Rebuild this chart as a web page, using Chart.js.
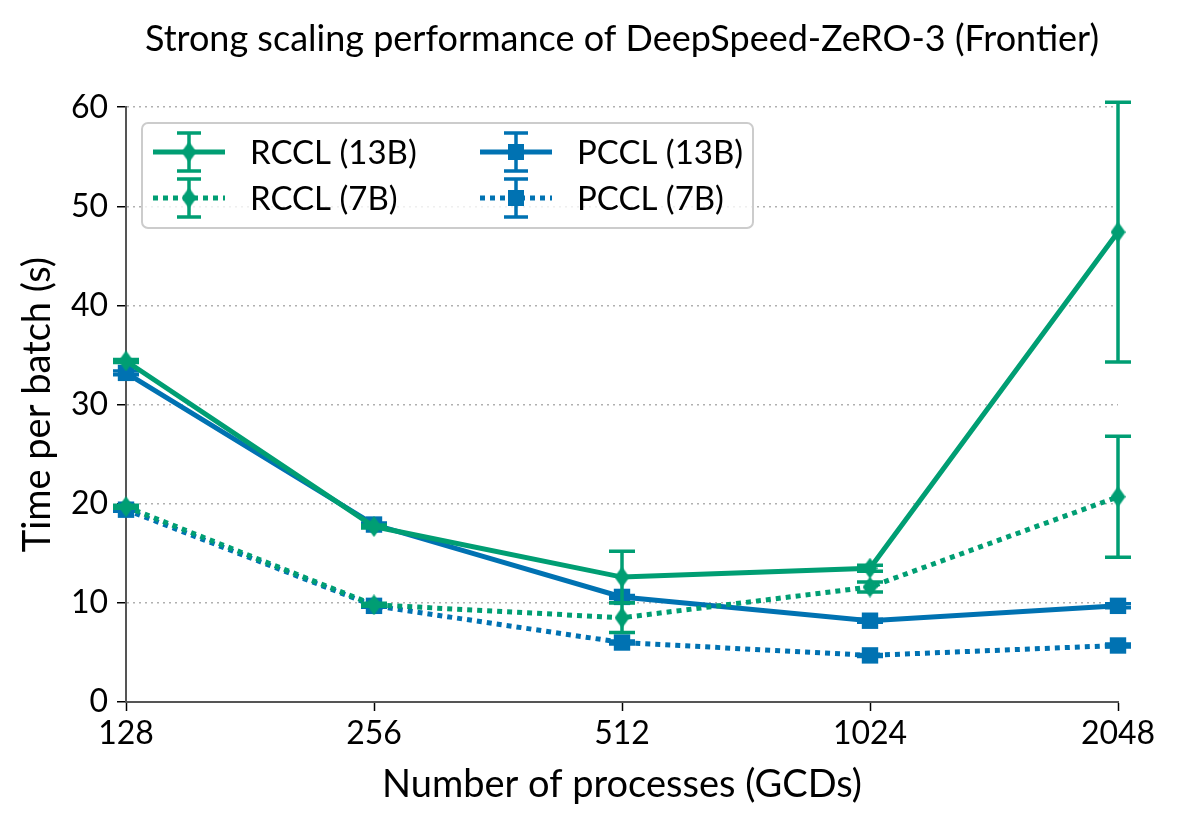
<!DOCTYPE html>
<html>
<head>
<meta charset="utf-8">
<script src="https://cdn.jsdelivr.net/npm/chart.js@4/dist/chart.umd.min.js"></script>
<style>
  body { margin: 0; background: #fff; }
  #wrap { width: 1178px; height: 826px; }
</style>
</head>
<body>
<div id="wrap"><canvas id="scaling"></canvas></div>
<script>
// data
const gcds = ['128', '256', '512', '1024', '2048']
const rccl13 = [34.4, 17.7, 12.6, 13.5, 47.4]
const rccl13Err = [0.15, 0.15, 2.6, 0.3, 13.1]
const rccl7 = [19.7, 9.8, 8.5, 11.6, 20.7]
const rccl7Err = [0.15, 0.15, 1.5, 0.5, 6.1]
const pccl13 = [33.2, 17.9, 10.6, 8.2, 9.7]
const pccl13Err = [0.2, 0.15, 0.15, 0.15, 0.2]
const pccl7 = [19.4, 9.7, 6.0, 4.7, 5.7]
const pccl7Err = [0.15, 0.15, 0.15, 0.1, 0.15]
const yTicks = [0, 10, 20, 30, 40, 50, 60]

const green = '#009E73'
const blue = '#0072B2'
const FONT = 'Lato'

// thin diamond marker like matplotlib 'd'
const makeDiamond = (color, w, h) => {
    const c = document.createElement('canvas')
    c.width = w
    c.height = h
    const g = c.getContext('2d')
    g.fillStyle = color
    g.beginPath()
    g.moveTo(w / 2, 0)
    g.lineTo(w, h / 2)
    g.lineTo(w / 2, h)
    g.lineTo(0, h / 2)
    g.closePath()
    g.fill()
    return c
}
const diamondG = makeDiamond(green, 15, 21)

const series = (label, data, errors, color, dotted, marker) => ({
    label: label,
    data: data,
    errors: errors,
    borderColor: color,
    backgroundColor: color,
    borderWidth: 5,
    borderDash: dotted ? [5, 5] : [],
    pointStyle: marker === 'd' ? diamondG : 'rect',
    pointRadius: marker === 'd' ? 10 : 11.6,
    pointBorderWidth: 0,
    pointHoverRadius: 11.6,
    tension: 0,
    fill: false,
    clip: false,
    marker: marker,
    dotted: dotted
})

// error bars, drawn with the y scale
const errorBars = {
    id: 'errorBars',
    beforeDatasetDraw(chart, args) {
        const ds = chart.data.datasets[args.index]
        const y = chart.scales.y
        const ctx = chart.ctx
        ctx.save()
        ctx.strokeStyle = ds.borderColor
        ctx.lineWidth = 3.5
        ctx.setLineDash([])
        args.meta.data.forEach((pt, i) => {
            const v = ds.data[i], e = ds.errors[i]
            const top = y.getPixelForValue(v + e)
            const bot = y.getPixelForValue(v - e)
            ctx.beginPath()
            ctx.moveTo(pt.x, top); ctx.lineTo(pt.x, bot)
            ctx.moveTo(pt.x - 13, top); ctx.lineTo(pt.x + 13, top)
            ctx.moveTo(pt.x - 13, bot); ctx.lineTo(pt.x + 13, bot)
            ctx.stroke()
        })
        ctx.restore()
    }
}

// legend box inside the axes, two columns
const boxLegend = {
    id: 'boxLegend',
    afterDraw(chart) {
        const ctx = chart.ctx
        const x0 = 142, y0 = 123, w = 611, h = 105
        ctx.save()
        ctx.fillStyle = 'rgba(255,255,255,0.8)'
        ctx.strokeStyle = '#cccccc'
        ctx.lineWidth = 2
        ctx.beginPath()
        ctx.roundRect(x0, y0, w, h, 6)
        ctx.fill()
        ctx.stroke()

        const cols = [153, 480]
        const rows = [152, 198]
        chart.data.datasets.forEach((ds, k) => {
            const lx = cols[Math.floor(k / 2)]
            const ly = rows[k % 2]
            const cx = lx + 36
            ctx.strokeStyle = ds.borderColor
            ctx.lineWidth = 5
            ctx.setLineDash(ds.dotted ? [5, 5] : [])
            ctx.beginPath()
            ctx.moveTo(lx, ly); ctx.lineTo(lx + 72, ly)
            ctx.stroke()
            ctx.setLineDash([])
            ctx.lineWidth = 3.5
            ctx.beginPath()
            ctx.moveTo(cx, ly - 19); ctx.lineTo(cx, ly + 19)
            ctx.moveTo(cx - 12, ly - 19); ctx.lineTo(cx + 12, ly - 19)
            ctx.moveTo(cx - 12, ly + 19); ctx.lineTo(cx + 12, ly + 19)
            ctx.stroke()
            if (ds.marker === 'd') {
                ctx.drawImage(diamondG, cx - 7.5, ly - 10.5)
            } else {
                ctx.fillStyle = ds.borderColor
                ctx.fillRect(cx - 8, ly - 8, 16, 16)
            }
            ctx.fillStyle = '#000'
            ctx.font = '33px ' + FONT
            ctx.textBaseline = 'middle'
            ctx.fillText(ds.label, lx + 97, ly + 1)
        })
        ctx.restore()
    }
}

new Chart(document.getElementById('scaling'), {
    type: 'line',
    data: {
        labels: gcds,
        datasets: [
            series('RCCL (13B)', rccl13, rccl13Err, green, false, 'd'),
            series('RCCL (7B)', rccl7, rccl7Err, green, true, 'd'),
            series('PCCL (13B)', pccl13, pccl13Err, blue, false, 's'),
            series('PCCL (7B)', pccl7, pccl7Err, blue, true, 's')
        ]
    },
    options: {
        responsive: true,
        maintainAspectRatio: false,
        animation: false,
        layout: { padding: { left: 0, right: 60, top: 0, bottom: 0 } },
        plugins: {
            legend: { display: false },
            tooltip: { enabled: false },
            title: {
                display: true,
                fullSize: false,
                text: 'Strong scaling performance of DeepSpeed-ZeRO-3 (Frontier)',
                color: '#000',
                font: { family: FONT, size: 36, weight: 'normal', lineHeight: 1.2 },
                padding: { top: 18, bottom: 46 }
            }
        },
        scales: {
            x: {
                type: 'category',
                offset: false,
                afterFit: s => { s.height = 124 },
                grid: { drawOnChartArea: false, drawTicks: true, tickLength: 9, tickColor: '#000', tickWidth: 1.5 },
                border: { color: '#555', width: 2 },
                ticks: { color: '#000', padding: 3, font: { family: FONT, size: 32 } },
                title: {
                    display: true,
                    text: 'Number of processes (GCDs)',
                    color: '#000',
                    font: { family: FONT, size: 38, lineHeight: 1.2 },
                    padding: { top: 0, bottom: 18 }
                }
            },
            y: {
                min: 0,
                max: 60,
                afterFit: s => { s.width = 126 },
                afterBuildTicks: s => { s.ticks = yTicks.map(v => ({ value: v })) },
                grid: { color: '#b0b0b0', lineWidth: 1.5, tickLength: 9, tickColor: '#000', tickWidth: 1.5, tickBorderDash: [] },
                border: { color: '#555', width: 2, dash: [2, 4] },
                ticks: { color: '#000', padding: 9, font: { family: FONT, size: 32 } },
                title: {
                    display: true,
                    text: 'Time per batch (s)',
                    color: '#000',
                    font: { family: FONT, size: 38, lineHeight: 1.2 },
                    padding: { top: 15, bottom: 0 }
                }
            }
        }
    },
    plugins: [errorBars, boxLegend]
})
</script>
</body>
</html>
